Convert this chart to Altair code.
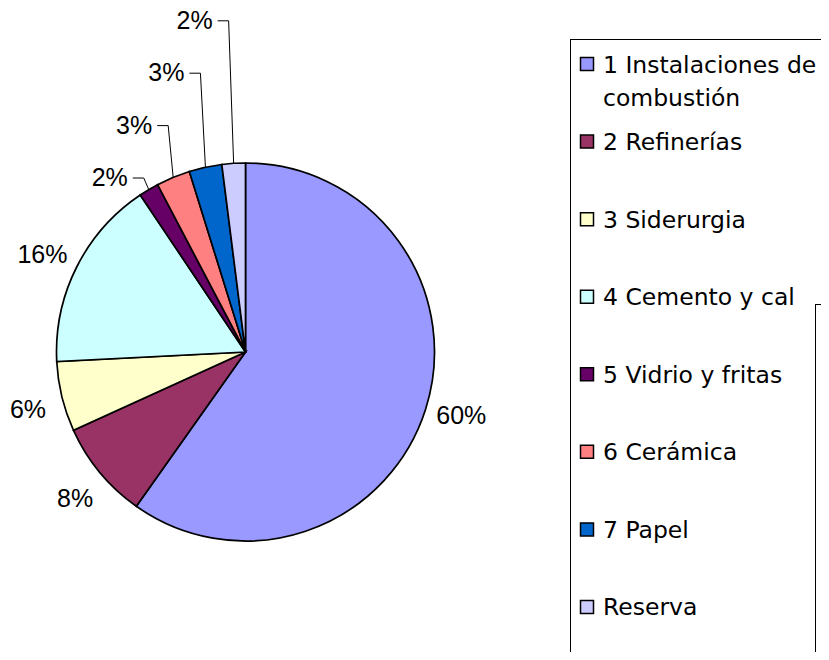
import altair as alt
import pandas as pd

# ---------------- data ----------------
categories = [
    "1 Instalaciones de combustión",
    "2 Refinerías",
    "3 Siderurgia",
    "4 Cemento y cal",
    "5 Vidrio y fritas",
    "6 Cerámica",
    "7 Papel",
    "Reserva",
]
values = [59.8, 8.4, 6.0, 16.4, 1.7, 2.9, 2.8, 2.0]
colors = ["#9999FF", "#993366", "#FFFFCC", "#CCFFFF", "#660066", "#FF8080", "#0066CC", "#CCCCFF"]

df = pd.DataFrame({"cat": categories, "value": values, "idx": list(range(len(categories)))})

# ---------------- layout (plot-area pixels) ----------------
W, H = 813, 644
CX, CY, R = 237.5, 344.0, 189.0
LABEL_R = 225
LABEL_ROT = -0.02
SMALL = 0.05
LEVEL0, LEVEL_STEP = 170.0, 52.4
LEG_SX, LEG_TX = 579.0, 595.0
LEG_Y0, LEG_STEP = 56.0, 77.57

color = alt.Color("cat:N", scale=alt.Scale(domain=categories, range=colors), legend=None)

base = (
    alt.Chart(df)
    .transform_window(cum="sum(value)", sort=[alt.SortField("idx")])
    .transform_joinaggregate(total="sum(value)")
    .transform_calculate(
        pct="datum.value/datum.total",
        mid="2*PI*(datum.cum - datum.value/2)/datum.total",
        txt="format(datum.value/datum.total, '.0%')",
    )
)

pie = (
    alt.Chart(df)
    .mark_arc(radius=R, stroke="black", strokeWidth=1.7)
    .encode(
        theta=alt.Theta("value:Q", stack=True),
        color=color,
        order=alt.Order("idx:Q"),
        x=alt.value(CX),
        y=alt.value(CY),
    )
)

big = (
    base.transform_filter(f"datum.pct >= {SMALL}")
    .transform_calculate(
        lx=f"{CX} + {LABEL_R}*sin(datum.mid + ({LABEL_ROT}))",
        ly=f"{CY} - {LABEL_R}*cos(datum.mid + ({LABEL_ROT}))",
    )
    .mark_text(font="Liberation Sans", fontSize=25, align="center", baseline="middle", color="black")
    .encode(
        x=alt.X("lx:Q", scale=None, axis=None),
        y=alt.Y("ly:Q", scale=None, axis=None),
        text="txt:N",
    )
)

small = (
    base.transform_filter(f"datum.pct < {SMALL}")
    .transform_window(k="row_number()", sort=[alt.SortField("idx")])
    .transform_calculate(
        ax=f"{CX} + {R}*sin(datum.mid)",
        ay=f"{CY} - {R}*cos(datum.mid)",
    )
    .transform_calculate(
        ey=f"{LEVEL0} - {LEVEL_STEP}*(datum.k-1)",
        ex="datum.ax - 5",
    )
    .transform_calculate(hx="datum.ex - 11", tx="datum.ex - 16")
)

leader1 = small.mark_rule(color="black", strokeWidth=1).encode(
    x=alt.X("ax:Q", scale=None, axis=None),
    y=alt.Y("ay:Q", scale=None, axis=None),
    x2="ex:Q",
    y2="ey:Q",
)
leader2 = small.mark_rule(color="black", strokeWidth=1).encode(
    x=alt.X("ex:Q", scale=None, axis=None),
    y=alt.Y("ey:Q", scale=None, axis=None),
    x2="hx:Q",
)
small_txt = small.mark_text(
    font="Liberation Sans", fontSize=25, align="right", baseline="middle", color="black"
).encode(
    x=alt.X("tx:Q", scale=None, axis=None),
    y=alt.Y("ey:Q", scale=None, axis=None),
    text="txt:N",
)

leg = alt.Chart(df).transform_calculate(
    ly=f"{LEG_Y0} + {LEG_STEP}*datum.idx",
    lyt=f"{LEG_Y0} + {LEG_STEP}*datum.idx + 8.5",
    sx=f"{LEG_SX}",
    tx=f"{LEG_TX}",
    lab="replace(datum.cat, ' de ', ' de\\n')",
)
leg_sym = leg.mark_square(size=169, stroke="black", strokeWidth=1.5, opacity=1).encode(
    x=alt.X("sx:Q", scale=None, axis=None),
    y=alt.Y("ly:Q", scale=None, axis=None),
    color=color,
)
leg_txt = leg.mark_text(
    font="DejaVu Sans", fontSize=23.5, align="left", baseline="alphabetic",
    lineBreak="\n", lineHeight=33, color="black",
).encode(
    x=alt.X("tx:Q", scale=None, axis=None),
    y=alt.Y("lyt:Q", scale=None, axis=None),
    text="lab:N",
)

one = pd.DataFrame({"a": [0]})
frame = [
    alt.Chart(one).mark_rule(color="black", strokeWidth=1).encode(x=alt.value(562), x2=alt.value(W), y=alt.value(31.5)),
    alt.Chart(one).mark_rule(color="black", strokeWidth=1).encode(x=alt.value(562.5), y=alt.value(31), y2=alt.value(H)),
    alt.Chart(one).mark_rule(color="black", strokeWidth=1).encode(x=alt.value(807), x2=alt.value(W), y=alt.value(296.5)),
    alt.Chart(one).mark_rule(color="black", strokeWidth=1).encode(x=alt.value(807.5), y=alt.value(296), y2=alt.value(H)),
]

chart = (
    alt.layer(pie, big, leader1, leader2, small_txt, leg_sym, leg_txt, *frame)
    .properties(width=W, height=H, padding=0, autosize=alt.AutoSizeParams(type="none"))
    .configure_view(stroke=None)
)

chart.save("out.html", embed_options={"renderer": "svg", "actions": False})
